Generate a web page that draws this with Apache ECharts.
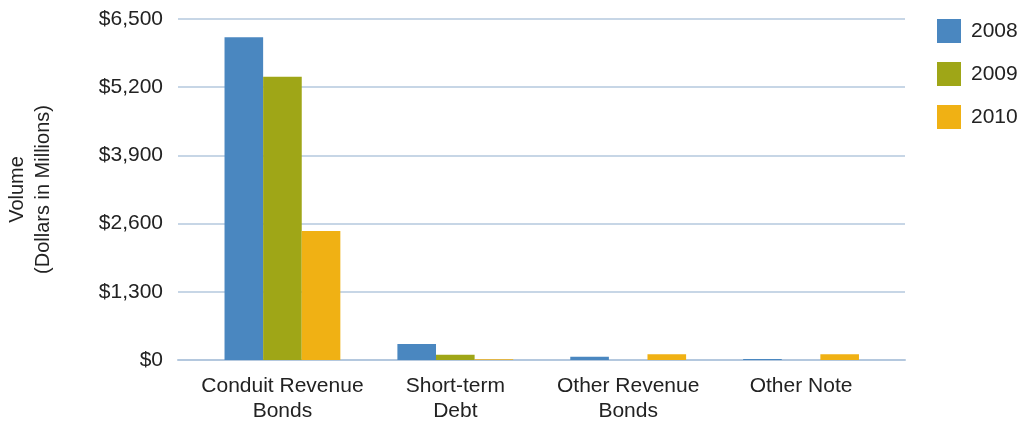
<!DOCTYPE html>
<html>
<head>
<meta charset="utf-8">
<script src="https://cdn.jsdelivr.net/npm/echarts@6/dist/echarts.min.js"></script>
<style>
  html, body { margin: 0; padding: 0; background: #fff; }
  #chart { width: 1027px; height: 424px; }
</style>
</head>
<body>
<div id="chart"></div>
<script>
const categories = ['Conduit Revenue\nBonds', 'Short-term\nDebt', 'Other Revenue\nBonds', 'Other Note'];
const years = ['2008', '2009', '2010'];
const values2008 = [6150, 305, 63, 20];
const values2009 = [5400, 100, 0, 0];
const values2010 = [2460, 15, 108, 108];
const yTicks = [0, 1300, 2600, 3900, 5200, 6500];

const colors = ['#4a87c0', '#9fa617', '#f0b114'];
const font = 'Liberation Sans, Arial, Helvetica, sans-serif';
const gridColor = '#b4c8de';

const chart = echarts.init(document.getElementById('chart'));

function makeSeries(name, data) {
  return {
    name: name,
    type: 'bar',
    xAxisIndex: 1,
    yAxisIndex: 1,
    data: data,
    barGap: '0%',
    barCategoryGap: '33%'
  };
}

const yMin = yTicks[0];
const yMax = yTicks[yTicks.length - 1];

// grid 0 holds the gridlines / y labels, grid 1 (a bit narrower) holds the bars
const option = {
  animation: false,
  color: colors,
  textStyle: { fontFamily: font },
  grid: [
    { left: 178, right: 122, top: 19, bottom: 64, outerBoundsMode: 'none' },
    { left: 196, right: 139.5, top: 19, bottom: 64, outerBoundsMode: 'none' }
  ],
  legend: {
    orient: 'vertical',
    left: 937,
    top: 19,
    padding: 0,
    itemWidth: 24,
    itemHeight: 24,
    itemGap: 19,
    icon: 'rect',
    textStyle: { fontSize: 21, color: '#222', fontFamily: font, padding: [0, 0, 0, 5] },
    data: years
  },
  xAxis: [
    {
      type: 'category',
      gridIndex: 0,
      data: categories,
      axisTick: { show: false },
      axisLabel: { show: false },
      axisLine: { lineStyle: { color: gridColor, width: 2 } }
    },
    {
      type: 'category',
      gridIndex: 1,
      data: categories,
      axisTick: { show: false },
      axisLine: { show: false },
      axisLabel: {
        interval: 0,
        fontSize: 21,
        color: '#222',
        lineHeight: 25,
        margin: 14,
        fontFamily: font
      }
    }
  ],
  yAxis: [
    {
      type: 'value',
      gridIndex: 0,
      min: yMin,
      max: yMax,
      interval: 1300,
      name: 'Volume\n(Dollars in Millions)',
      nameLocation: 'middle',
      nameGap: 122,
      nameRotate: 90,
      nameTextStyle: { fontSize: 20, color: '#222', lineHeight: 26, fontFamily: font },
      axisLine: { show: false },
      axisTick: { show: false },
      axisLabel: {
        fontSize: 21,
        color: '#222',
        margin: 15,
        fontFamily: font,
        formatter: function (v) {
          return '$' + v.toLocaleString('en-US');
        }
      },
      splitLine: { lineStyle: { color: gridColor, width: 1.5 } }
    },
    {
      type: 'value',
      gridIndex: 1,
      min: yMin,
      max: yMax,
      interval: 1300,
      show: false,
      splitLine: { show: false }
    }
  ],
  series: [
    makeSeries(years[0], values2008),
    makeSeries(years[1], values2009),
    makeSeries(years[2], values2010)
  ]
};

chart.setOption(option);
</script>
</body>
</html>
